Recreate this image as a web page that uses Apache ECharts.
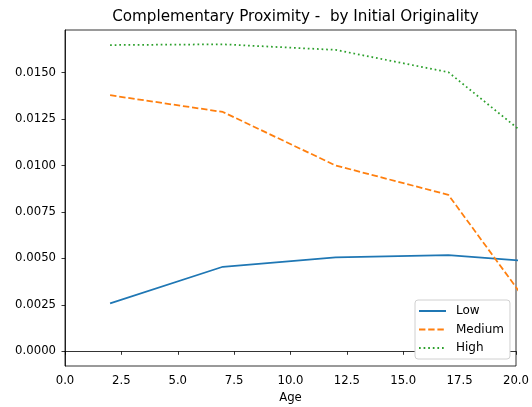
<!DOCTYPE html>
<html>
<head>
<meta charset="utf-8">
<script src="https://cdn.jsdelivr.net/npm/echarts@6/dist/echarts.min.js"></script>
<style>html,body{margin:0;padding:0;background:#fff}#c{width:532px;height:407px}</style>
</head>
<body>
<div id="c"></div>
<script>
var ages = [2, 7, 12, 17, 22];
var lowVals = [0.00258, 0.00455, 0.00505, 0.00517, 0.00472];
var mediumVals = [0.01378, 0.01288, 0.01000, 0.00842, 0.00014];
var highVals = [0.01648, 0.01652, 0.01622, 0.01502, 0.01010];
var yTicks = [0, 0.0025, 0.005, 0.0075, 0.01, 0.0125, 0.015];

function pairs(vals){ return ages.map(function(a,i){ return [a, vals[i]]; }); }

var font = 'DejaVu Sans';
var chart = echarts.init(document.getElementById('c'), null, {renderer:'canvas'});
chart.setOption({
  animation: false,
  title: {
    text: 'Complementary Proximity -  by Initial Originality',
    left: 290.5, top: 5, textAlign: 'center',
    textStyle: {fontFamily: font, fontSize: 15.2, fontWeight: 'normal', color: '#000'}
  },
  grid: {left: 65, right: 16, top: 30, bottom: 41, outerBoundsMode: 'none', containLabel: false,
         show: true, borderColor: '#000', borderWidth: 0.8, backgroundColor: 'transparent'},
  legend: {
    orient: 'vertical', left: 415, top: 300,
    itemWidth: 27, itemHeight: 12, itemGap: 6.5,
    backgroundColor: '#fff', borderColor: '#d0d0d0', borderWidth: 1, borderRadius: 3,
    padding: [5, 6, 5, 3],
    textStyle: {fontFamily: font, fontSize: 12, color: '#000', padding: [0, 0, 0, 5]},
    itemStyle: {opacity: 0},
    data: ['Low', 'Medium', 'High']
  },
  xAxis: {
    type: 'value', min: 0, max: 20, interval: 2.5,
    name: 'Age', nameLocation: 'middle', nameGap: 26,
    nameTextStyle: {fontFamily: font, fontSize: 11.7, color: '#000'},
    axisLine: {show: true, lineStyle: {color: '#000', width: 0.8}},
    axisTick: {show: true, inside: false, length: 3.5, lineStyle: {color: '#000', width: 0.8}},
    axisLabel: {fontFamily: font, fontSize: 11.7, color: '#000', margin: 9, formatter: function(v){ return v.toFixed(1); }},
    splitLine: {show: false}
  },
  yAxis: {
    type: 'value', min: -0.00079, max: 0.01729,
    axisLine: {show: true, lineStyle: {color: '#000', width: 0.8}},
    axisTick: {show: true, length: 3.5, lineStyle: {color: '#000', width: 0.8}, customValues: yTicks},
    axisLabel: {fontFamily: font, fontSize: 11.7, color: '#000', margin: 9, customValues: yTicks, formatter: function(v){ return v.toFixed(4); }},
    splitLine: {show: false}
  },
  series: [
    {name: 'Low', type: 'line', data: pairs(lowVals), showSymbol: false, symbol: 'none', clip: true,
     itemStyle: {color: '#1f77b4'}, lineStyle: {color: '#1f77b4', width: 1.75}},
    {name: 'Medium', type: 'line', data: pairs(mediumVals), showSymbol: false, symbol: 'none', clip: true,
     itemStyle: {color: '#ff7f0e'}, lineStyle: {color: '#ff7f0e', width: 1.75, type: [6.4, 2.8]}},
    {name: 'High', type: 'line', data: pairs(highVals), showSymbol: false, symbol: 'none', clip: true,
     itemStyle: {color: '#2ca02c'}, lineStyle: {color: '#2ca02c', width: 1.75, type: [1.7, 2.9]}}
  ]
});
</script>
</body>
</html>
